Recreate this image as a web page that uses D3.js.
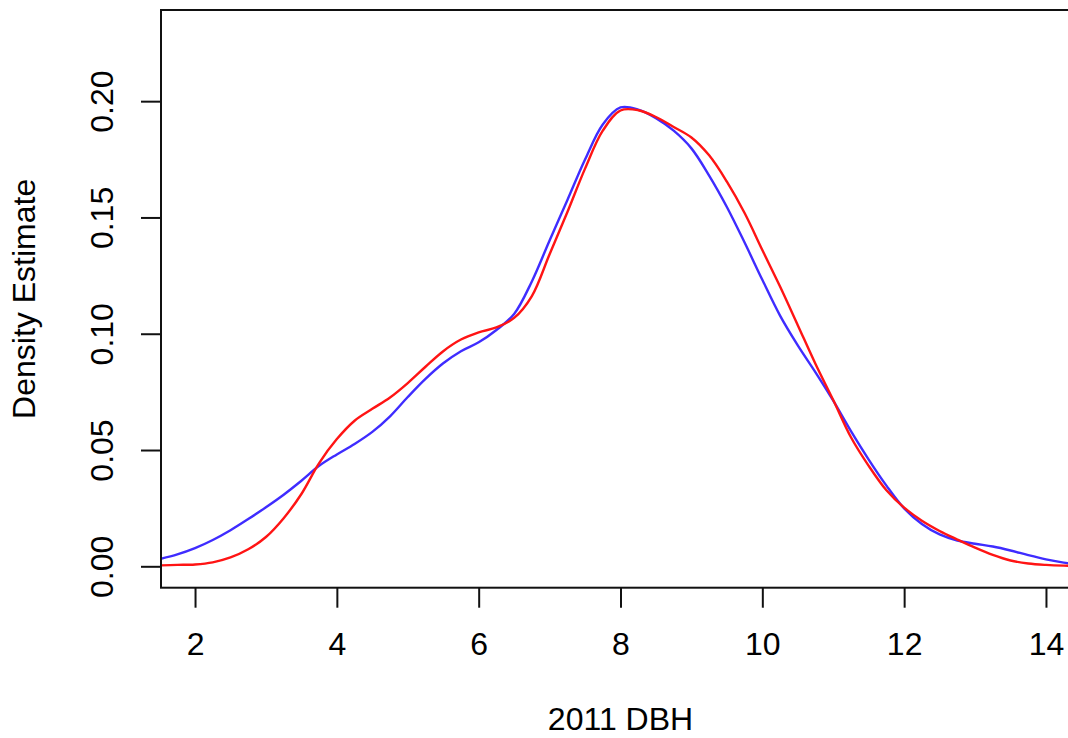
<!DOCTYPE html>
<html lang="en">
<head>
    <meta charset="UTF-8">
    <title>2011 DBH density</title>
    <style>
        body {
            margin: 0;
            background: #fff;
            overflow: hidden;
        }
        svg text {
            font-family: "Liberation Sans", Arial, Helvetica, sans-serif;
            fill: #000;
        }
        .axis line, .axis path {
            stroke: #111;
            stroke-width: 2px;
        }
    </style>
</head>
<body>
<div id="chart"></div>
<script src="https://d3js.org/d3.v7.min.js"></script>
<script>
// DBH grid the curves were read at
const dbh = [1.5, 1.75, 2, 2.25, 2.5, 2.75, 3, 3.25, 3.5, 3.75, 4, 4.25, 4.5, 4.75, 5, 5.25,
    5.5, 5.75, 6, 6.25, 6.5, 6.75, 7, 7.25, 7.5, 7.75, 8, 8.25, 8.5, 8.75, 9, 9.25, 9.5,
    9.75, 10, 10.25, 10.5, 10.75, 11, 11.25, 11.5, 11.75, 12, 12.25, 12.5, 12.75, 13,
    13.25, 13.5, 13.75, 14, 14.25, 14.5];

// blue density curve
const blueDensity = [0.0031, 0.0051, 0.0078, 0.0113, 0.0155, 0.0203, 0.0254, 0.0308, 0.0368,
    0.0432, 0.0481, 0.0526, 0.0578, 0.0645, 0.0728, 0.0806, 0.0873, 0.0925, 0.0963, 0.1016,
    0.1085, 0.1225, 0.1401, 0.1574, 0.1749, 0.1900, 0.1973, 0.1964, 0.1927, 0.1873, 0.1797,
    0.1680, 0.1545, 0.1392, 0.1232, 0.1078, 0.0950, 0.0834, 0.0712, 0.0581, 0.0459, 0.0347,
    0.0249, 0.0182, 0.0137, 0.0111, 0.0097, 0.0085, 0.0068, 0.0048, 0.0030, 0.0016, 0.0007];

// red density curve
const redDensity = [0.0004, 0.0006, 0.0008, 0.0017, 0.0038, 0.0073, 0.0126, 0.0207, 0.0311,
    0.0444, 0.0547, 0.0626, 0.0677, 0.0726, 0.0788, 0.0858, 0.0925, 0.0975, 0.1006, 0.1027,
    0.1068, 0.1162, 0.1342, 0.1522, 0.1710, 0.1873, 0.1960, 0.1961, 0.1932, 0.1889, 0.1844,
    0.1767, 0.1654, 0.1519, 0.1360, 0.1203, 0.1037, 0.0870, 0.0715, 0.0555, 0.0432, 0.0327,
    0.0252, 0.0196, 0.0152, 0.0115, 0.0080, 0.0049, 0.0025, 0.0012, 0.0006, 0.0003, 0.0002];

const xTicks = [2, 4, 6, 8, 10, 12, 14];
const yTicks = [0, 0.05, 0.10, 0.15, 0.20];

const width = 1068, height = 738;
const plot = { left: 161, top: 10, right: 1080, bottom: 587.7 };
const fontSize = 32;

const svg = d3.select('#chart').append('svg')
    .attr('width', width)
    .attr('height', height);

// R style extended ranges: xlim 2..14, ylim 0..0.23 with 4% padding
const x = d3.scaleLinear().domain([1.52, 14.48]).range([plot.left, plot.right]);
const y = d3.scaleLinear().domain([-0.0092, 0.2392]).range([plot.bottom, plot.top]);

svg.append('clipPath').attr('id', 'plot-clip')
    .append('rect')
    .attr('x', plot.left).attr('y', plot.top)
    .attr('width', plot.right - plot.left)
    .attr('height', plot.bottom - plot.top);

const line = d3.line()
    .x((d, i) => x(dbh[i]))
    .y(d => y(d))
    .curve(d3.curveCatmullRom);

svg.append('path')
    .datum(blueDensity)
    .attr('clip-path', 'url(#plot-clip)')
    .attr('fill', 'none')
    .attr('stroke', '#3f2cff')
    .attr('stroke-width', 2.4)
    .attr('d', line);

svg.append('path')
    .datum(redDensity)
    .attr('clip-path', 'url(#plot-clip)')
    .attr('fill', 'none')
    .attr('stroke', '#ff1414')
    .attr('stroke-width', 2.4)
    .attr('d', line);

// box
svg.append('rect')
    .attr('x', plot.left).attr('y', plot.top)
    .attr('width', plot.right - plot.left)
    .attr('height', plot.bottom - plot.top)
    .attr('fill', 'none')
    .attr('stroke', '#111')
    .attr('stroke-width', 2);

const xAxis = d3.axisBottom(x)
    .tickValues(xTicks)
    .tickFormat(d3.format('d'))
    .tickSize(20)
    .tickPadding(24.5);

svg.append('g')
    .attr('class', 'axis')
    .attr('transform', `translate(0, ${plot.bottom})`)
    .call(xAxis)
    .call(g => g.select('.domain').remove())
    .selectAll('text')
    .style('font-size', fontSize + 'px');

const yAxis = d3.axisLeft(y)
    .tickValues(yTicks)
    .tickFormat(d3.format('.2f'))
    .tickSize(20);

svg.append('g')
    .attr('class', 'axis')
    .attr('transform', `translate(${plot.left}, 0)`)
    .call(yAxis)
    .call(g => g.select('.domain').remove())
    .selectAll('text')
    .style('font-size', fontSize + 'px')
    .attr('text-anchor', 'middle')
    .attr('x', 0)
    .attr('dy', 0)
    .attr('transform', 'translate(-48, 0) rotate(-90)');

svg.append('text')
    .attr('x', (plot.left + plot.right) / 2)
    .attr('y', 730)
    .attr('text-anchor', 'middle')
    .style('font-size', fontSize + 'px')
    .text('2011 DBH');

svg.append('text')
    .attr('transform', `translate(35, ${(plot.top + plot.bottom) / 2}) rotate(-90)`)
    .attr('text-anchor', 'middle')
    .style('font-size', fontSize + 'px')
    .text('Density Estimate');
</script>
</body>
</html>
